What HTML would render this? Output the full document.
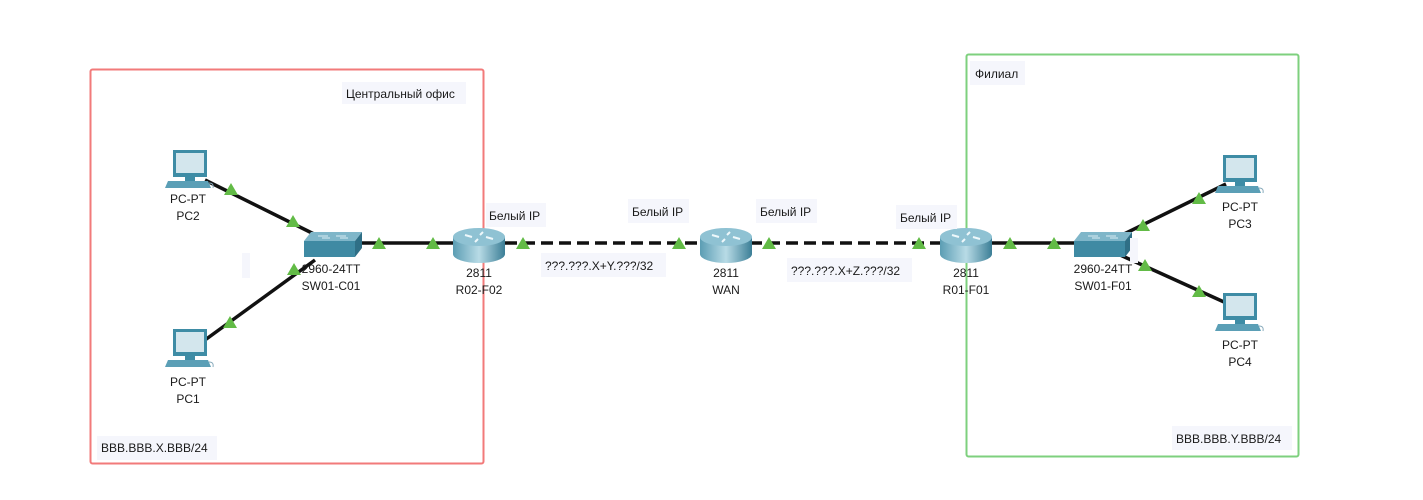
<!DOCTYPE html>
<html><head><meta charset="utf-8"><style>
html,body{margin:0;padding:0;background:#fff;}
svg{display:block;font-family:"Liberation Sans",sans-serif;}
text{font-size:12px;fill:#1a1a1a;}
</style></head><body>
<svg width="1423" height="500" viewBox="0 0 1423 500" xmlns="http://www.w3.org/2000/svg">
<defs>
<g id="pc">
  <rect x="8" y="0" width="34" height="27" fill="#3e8ca5"/>
  <rect x="11" y="3" width="28" height="20" fill="#d3e6ed"/>
  <rect x="20" y="27" width="10" height="4" fill="#3e8ca5"/>
  <polygon points="3,31 43,31 46,38 0,38" fill="#5b9fb6"/>
  <path d="M44,33 q5,0 4,5" stroke="#8ab" fill="none"/>
</g>
<g id="sw">
  <polygon points="7,0 58,0 51,9 0,9" fill="#7fb6c9"/>
  <rect x="0" y="9" width="51" height="16" fill="#3f8aa3"/>
  <polygon points="51,9 58,0 58,16 51,25" fill="#2f6f86"/>
  <path d="M14,4 h10 M32,4 h10 M18,6 h8 M36,6 h8" stroke="#d8ecf2" stroke-width="1"/>
</g>
<linearGradient id="rg" x1="0" x2="1">
  <stop offset="0" stop-color="#5b9db3"/><stop offset="0.5" stop-color="#b8dbe6"/><stop offset="1" stop-color="#3b7e96"/>
</linearGradient>
<g id="rt">
  <path d="M0,9 v17 a26,9 0 0 0 52,0 v-17 z" fill="url(#rg)"/>
  <ellipse cx="26" cy="9" rx="26" ry="9" fill="#8fc2d3"/>
  <path d="M12,7 l7,2 M40,11 l-7,-2 M30,4 l-3,3 M22,14 l3,-3" stroke="#eef8fb" stroke-width="2"/>
</g>
</defs>

<rect x="90.5" y="69.5" width="393" height="394" fill="none" stroke="#f27a7a" stroke-width="2" rx="2"/>
<rect x="966.5" y="54.5" width="332" height="402" fill="none" stroke="#7ed07e" stroke-width="2" rx="2"/>

<!-- links -->
<g stroke="#111" stroke-width="3.5">
<line x1="205" y1="180" x2="322" y2="238"/>
<line x1="205" y1="340" x2="315" y2="260"/>
<line x1="360" y1="243" x2="455" y2="243"/>
<line x1="505" y1="243" x2="702" y2="243" stroke-dasharray="12,6"/>
<line x1="750" y1="243" x2="942" y2="243" stroke-dasharray="12,6"/>
<line x1="990" y1="243" x2="1078" y2="243"/>
<line x1="1120" y1="236" x2="1226" y2="184"/>
<line x1="1118" y1="254" x2="1224" y2="302"/>
</g>

<use href="#pc" x="165" y="150"/>
<use href="#pc" x="165" y="329"/>
<use href="#pc" x="1215" y="155"/>
<use href="#pc" x="1215" y="293"/>
<use href="#sw" x="304" y="232"/>
<use href="#sw" x="1074" y="232"/>
<use href="#rt" x="453" y="228"/>
<use href="#rt" x="700" y="228"/>
<use href="#rt" x="940" y="228"/>

<!-- triangles -->
<g fill="#62bb46">
<polygon points="231,183 224,195 238,195"/>
<polygon points="293,215 286,227 300,227"/>
<polygon points="294,263 287,275 301,275"/>
<polygon points="230,316 223,328 237,328"/>
<polygon points="379,237 372,249 386,249"/>
<polygon points="433,237 426,249 440,249"/>
<polygon points="523,237 516,249 530,249"/>
<polygon points="679,237 672,249 686,249"/>
<polygon points="769,237 762,249 776,249"/>
<polygon points="919,237 912,249 926,249"/>
<polygon points="1010,237 1003,249 1017,249"/>
<polygon points="1054,237 1047,249 1061,249"/>
<polygon points="1143,219 1136,231 1150,231"/>
<polygon points="1199,192 1192,204 1206,204"/>
<polygon points="1145,259 1138,271 1152,271"/>
<polygon points="1199,285 1192,297 1206,297"/>
</g>

<!-- label backgrounds -->
<g fill="#f5f6fc">
<rect x="342" y="82" width="124" height="22"/>
<rect x="486" y="203" width="60" height="24"/>
<rect x="628" y="199" width="61" height="24"/>
<rect x="756" y="199" width="61" height="24"/>
<rect x="896" y="205" width="61" height="24"/>
<rect x="541" y="253" width="125" height="24"/>
<rect x="787" y="258" width="125" height="24"/>
<rect x="970" y="61" width="55" height="24"/>
<rect x="1172" y="426" width="120" height="24"/>
<rect x="97" y="436" width="120" height="24"/>
<rect x="242" y="253" width="8" height="25"/>
<rect x="1130" y="238" width="8" height="25"/>
</g>

<g text-anchor="middle">
<text x="188" y="203">PC-PT</text><text x="188" y="220">PC2</text>
<text x="188" y="386">PC-PT</text><text x="188" y="403">PC1</text>
<text x="1240" y="211">PC-PT</text><text x="1240" y="228">PC3</text>
<text x="1240" y="349">PC-PT</text><text x="1240" y="366">PC4</text>
<text x="331" y="273">2960-24TT</text><text x="331" y="290">SW01-C01</text>
<text x="1103" y="273">2960-24TT</text><text x="1103" y="290">SW01-F01</text>
<text x="479" y="277">2811</text><text x="479" y="294">R02-F02</text>
<text x="726" y="277">2811</text><text x="726" y="294">WAN</text>
<text x="966" y="277">2811</text><text x="966" y="294">R01-F01</text>
</g>
<text x="346" y="98">Центральный офис</text>
<text x="489" y="220">Белый IP</text>
<text x="632" y="216">Белый IP</text>
<text x="760" y="216">Белый IP</text>
<text x="900" y="222">Белый IP</text>
<text x="545" y="270">???.???.X+Y.???/32</text>
<text x="791" y="275">???.???.X+Z.???/32</text>
<text x="975" y="78">Филиал</text>
<text x="1176" y="443">BBB.BBB.Y.BBB/24</text>
<text x="101" y="452">BBB.BBB.X.BBB/24</text>
</svg>
</body></html>
